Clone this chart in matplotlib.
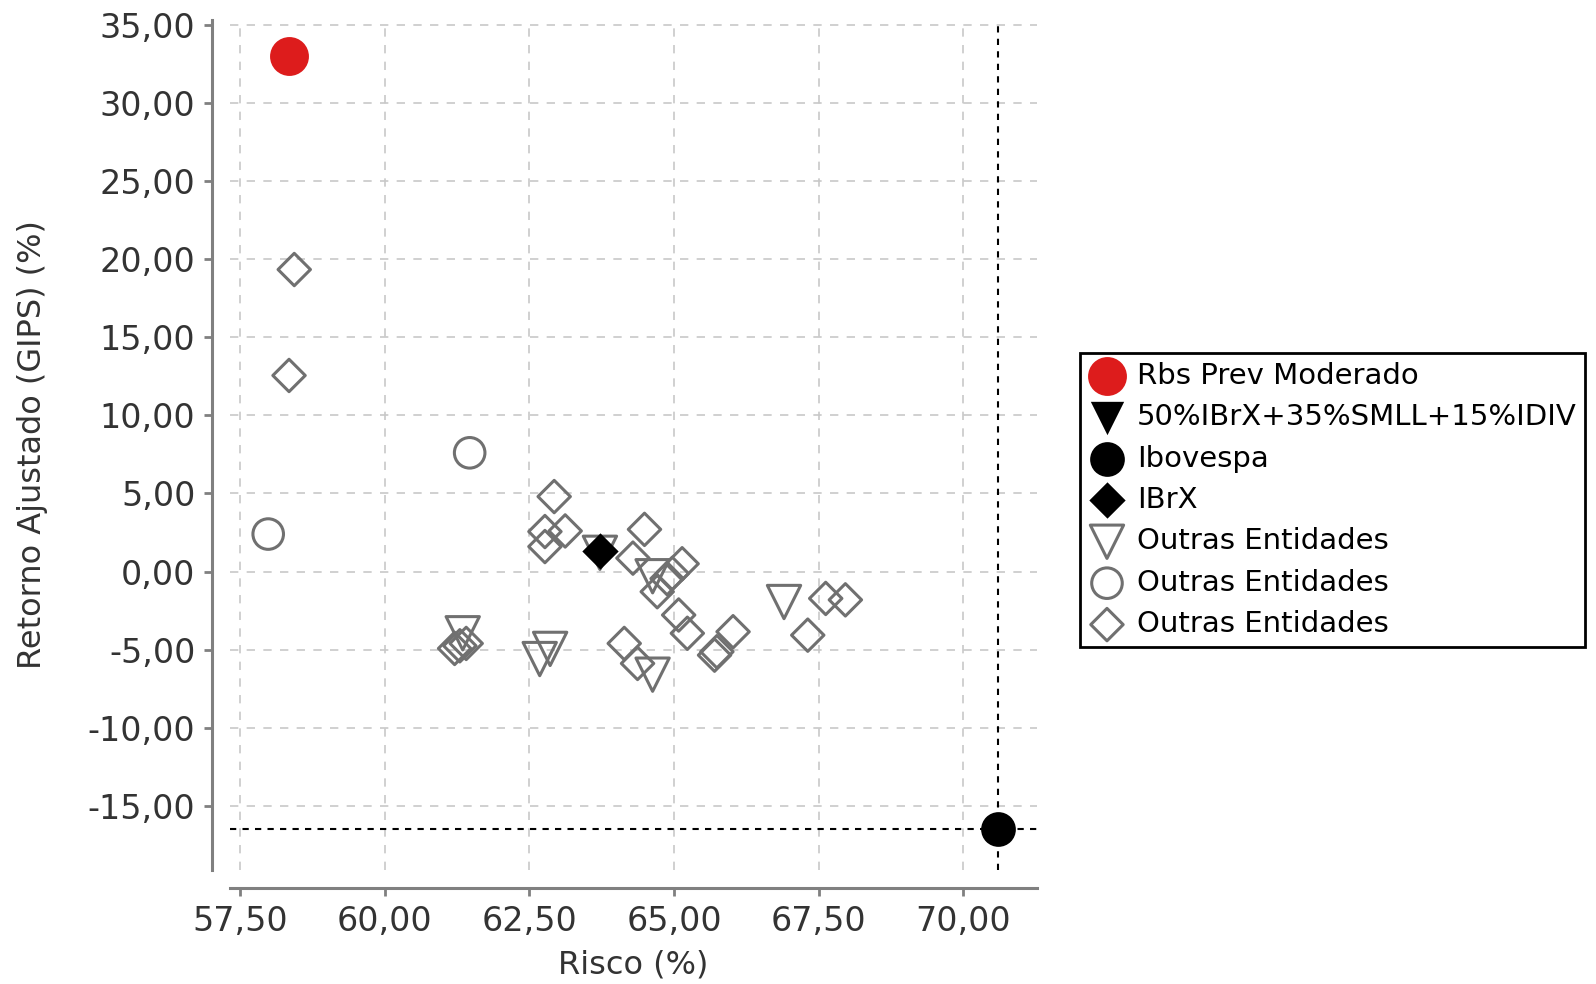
import matplotlib
matplotlib.use('Agg')
from matplotlib import pyplot as plt

# dados
rbs_x = [58.35]
rbs_y = [33.0]
bench_x = []
bench_y = []
ibov_x = [70.6]
ibov_y = [-16.48]
ibrx_x = [63.72]
ibrx_y = [1.3]

tri_x = [66.90, 61.35, 62.86, 62.68, 63.72, 64.63, 64.63]
tri_y = [-1.95, -3.95, -4.95, -5.60, 1.20, -0.30, -6.60]

circ_x = [57.99, 61.47]
circ_y = [2.40, 7.60]

diam_x = [58.44, 58.35, 62.93, 62.77, 63.12, 62.77, 64.49, 64.29, 65.14, 64.97,
          64.88, 64.71, 65.08, 65.23, 66.02, 65.74, 65.70, 64.14, 64.37, 61.21,
          61.41, 61.30, 67.62, 67.96, 67.31]
diam_y = [19.33, 12.55, 4.80, 2.56, 2.60, 1.60, 2.70, 0.86, 0.50, -0.12,
          -0.45, -1.29, -2.78, -3.95, -3.85, -5.13, -5.35, -4.60, -5.88, -4.92,
          -4.60, -4.75, -1.72, -1.81, -4.07]

x_ticks = [57.5, 60.0, 62.5, 65.0, 67.5, 70.0]
y_ticks = [-15, -10, -5, 0, 5, 10, 15, 20, 25, 30, 35]

gray = '#707070'
plt.rcParams['font.family'] = ['DejaVu Sans']

fig = plt.figure(figsize=(15.96, 9.84), dpi=100)
ax = fig.add_axes([230 / 1596, 114 / 984, 807 / 1596, 850 / 984])

ax.axvline(ibov_x[0], color='black', lw=1.5, ls=(0, (3, 3)), zorder=1)
ax.axhline(ibov_y[0], color='black', lw=1.5, ls=(0, (3, 3)), zorder=1)

ax.scatter(rbs_x, rbs_y, s=28 ** 2, marker='o', color='#dd1c1c', lw=0,
           label='Rbs Prev Moderado', zorder=5)
ax.scatter(bench_x, bench_y, s=24 ** 2, marker='v', color='black', lw=0,
           label='50%IBrX+35%SMLL+15%IDIV', zorder=5)
ax.scatter(ibov_x, ibov_y, s=25 ** 2, marker='o', color='black', lw=0,
           label='Ibovespa', zorder=5)
ax.scatter(ibrx_x, ibrx_y, s=18.5 ** 2, marker='D', color='black', lw=0,
           label='IBrX', zorder=5)
ax.scatter(tri_x, tri_y, s=24 ** 2, marker='v', facecolor='none', edgecolor=gray,
           lw=2.2, label='Outras Entidades', zorder=3)
ax.scatter(circ_x, circ_y, s=22 ** 2, marker='o', facecolor='none', edgecolor=gray,
           lw=2.2, label='Outras Entidades', zorder=3)
ax.scatter(diam_x, diam_y, s=16.5 ** 2, marker='D', facecolor='none', edgecolor=gray,
           lw=2.2, label='Outras Entidades', zorder=3)

ax.set_xlim(57.33, 71.27)
ax.set_ylim(-19.1, 35.3)
ax.set_xticks(x_ticks)
ax.set_yticks(y_ticks)
ax.set_xticklabels([f'{v:.2f}'.replace('.', ',') for v in x_ticks])
ax.set_yticklabels([f'{v:.2f}'.replace('.', ',') for v in y_ticks])

ax.grid(True, color='#c8c8c8', lw=1.2, ls=(0, (5, 5)), zorder=0)
ax.set_axisbelow(True)

for side in ['top', 'right']:
    ax.spines[side].set_visible(False)
for side in ['left', 'bottom']:
    ax.spines[side].set_position(('outward', 13))
    ax.spines[side].set_color('#808080')
    ax.spines[side].set_linewidth(2.2)
ax.tick_params(axis='both', colors='#808080', width=2, length=6,
               labelsize=24, labelcolor='#333333', pad=6)

ax.set_xlabel('Risco (%)', fontsize=23, color='#333333')
ax.set_ylabel('Retorno Ajustado (GIPS) (%)', fontsize=23, color='#333333')
ax.xaxis.set_label_coords(0.5, -0.093)
ax.yaxis.set_label_coords(-0.226, 0.5)

leg = ax.legend(loc='upper left', bbox_to_anchor=(1080 / 1596, 1 - 353 / 984),
                bbox_transform=fig.transFigure, borderaxespad=0, fontsize=21,
                frameon=True, fancybox=False, edgecolor='black', framealpha=1,
                labelspacing=0.46, handletextpad=0.4, handlelength=1.25,
                borderpad=0.3, scatterpoints=1)
leg.get_frame().set_linewidth(2)

fig.savefig('out.png', dpi=100)
